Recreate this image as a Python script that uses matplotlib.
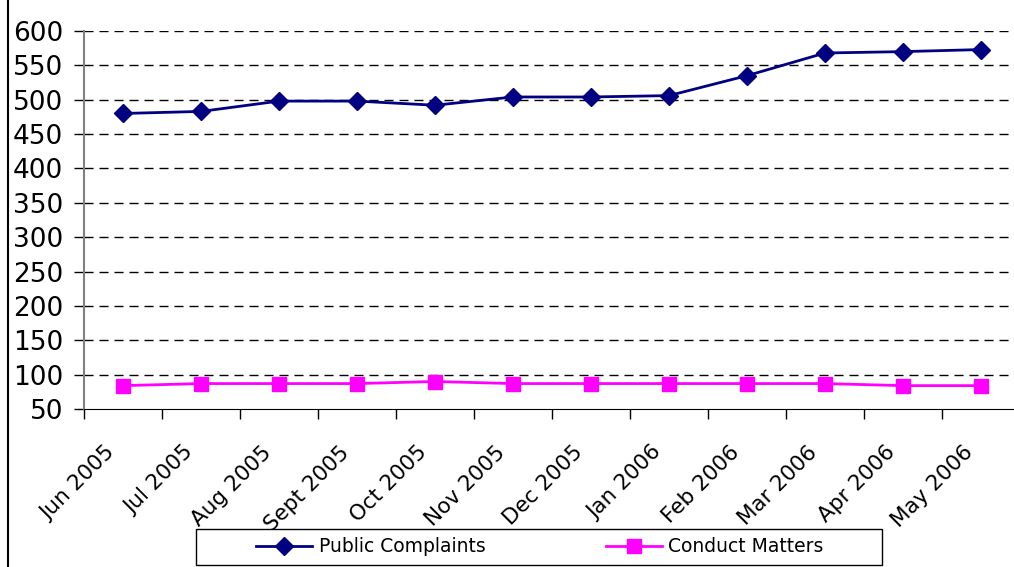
import numpy as np
import matplotlib.pyplot as plt
from matplotlib.lines import Line2D
from matplotlib.patches import Rectangle
from matplotlib.transforms import ScaledTranslation

months = ["Jun 2005", "Jul 2005", "Aug 2005", "Sept 2005", "Oct 2005", "Nov 2005",
          "Dec 2005", "Jan 2006", "Feb 2006", "Mar 2006", "Apr 2006", "May 2006"]
public_complaints = [480, 483, 498, 498, 492, 504, 504, 506, 535, 568, 570, 573]
conduct_matters = [84, 87, 87, 87, 90, 87, 87, 87, 87, 87, 84, 84]

W, H = 1014, 567
fig = plt.figure(figsize=(W / 100, H / 100), dpi=100)
ax = fig.add_axes([84 / W, (H - 409) / H, 936 / W, 378 / H])

x = np.arange(len(months)) + 0.5
ax.plot(x, public_complaints, color="#000080", lw=2, marker="D", ms=9,
        label="Public Complaints", clip_on=False)
ax.plot(x, conduct_matters, color="#FF00FF", lw=2, marker="s", ms=10,
        label="Conduct Matters", clip_on=False)

ax.set_xlim(0, len(months))
ax.set_ylim(50, 600)
ax.set_yticks(np.arange(50, 601, 50))
ax.tick_params(axis="y", labelsize=19, length=7, width=1, pad=8)
for yv in np.arange(100, 601, 50):
    ax.axhline(yv, color="black", lw=1, dashes=(6.5, 4.3), zorder=0)

ax.set_xticks(np.arange(0, len(months) + 1))
ax.set_xticklabels([])
ax.tick_params(axis="x", which="major", length=7, width=1)
ax.set_xticks(x, minor=True)
ax.set_xticklabels(months, minor=True, rotation=45, ha="right", va="center",
                   rotation_mode="anchor", fontsize=15.5)
ax.tick_params(axis="x", which="minor", length=0, pad=29)
off = ScaledTranslation(-11 / 100, 0, fig.dpi_scale_trans)
for lab in ax.get_xticklabels(minor=True):
    lab.set_transform(lab.get_transform() + off)

ax.spines["top"].set_visible(False)
ax.spines["right"].set_visible(False)
ax.spines["left"].set_color("#808080")
ax.spines["left"].set_linewidth(1.5)

fig.add_artist(Line2D([8 / W, 8 / W], [0, 1], color="black", lw=1.5))

# legend box drawn separately so the padding matches
fig.add_artist(Rectangle((196 / W, 2 / H), 686 / W, 36 / H, transform=fig.transFigure,
                         facecolor="white", edgecolor="black", lw=1, zorder=4))
leg = fig.legend(loc="center", bbox_to_anchor=(540 / W, 20 / H), ncol=2,
                 fontsize=13.5, frameon=False, handlelength=3,
                 handletextpad=0.35, columnspacing=6.4, borderpad=0)
leg.set_zorder(5)

fig.savefig("out.png", dpi=100)
